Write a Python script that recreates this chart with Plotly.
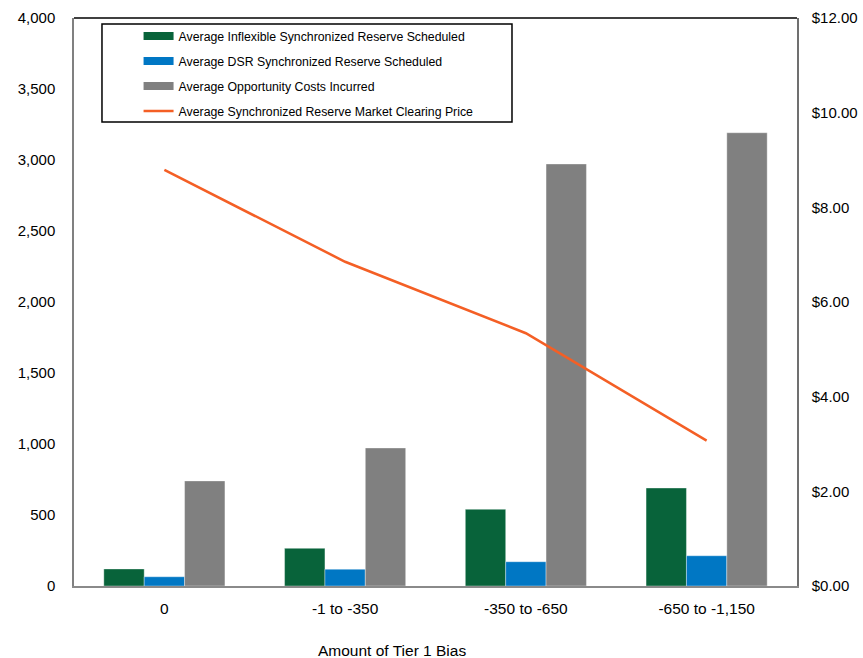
import plotly.graph_objects as go

# Tier 1 bias bins and averages per bin
categories = ["0", "-1 to -350", "-350 to -650", "-650 to -1,150"]
inflexible_mw = [120, 265, 540, 690]
dsr_mw = [65, 118, 171, 213]
opportunity_cost = [740, 972, 2972, 3192]
clearing_price = [8.79, 6.85, 5.34, 3.07]

series_names = [
    "Average Inflexible Synchronized Reserve Scheduled",
    "Average DSR Synchronized Reserve Scheduled",
    "Average Opportunity Costs Incurred",
    "Average Synchronized Reserve Market Clearing Price",
]
x_title = "Amount of Tier 1 Bias"

GREEN = "#08633a"
BLUE = "#0077c4"
GRAY = "#808080"
ORANGE = "#f45f25"

AXIS_FONT = dict(family="Liberation Sans, Arial, sans-serif", size=15, color="#000000")
LEGEND_FONT = dict(family="Liberation Sans, Arial, sans-serif", size=12.3, color="#000000")

fig = go.Figure()

bar_series = [
    (inflexible_mw, GREEN, "g1"),
    (dsr_mw, BLUE, "g2"),
    (opportunity_cost, GRAY, "g3"),
]
for (vals, color, grp), name in zip(bar_series, series_names[:3]):
    fig.add_trace(go.Bar(
        x=categories, y=vals, name=name, marker_color=color,
        marker_line=dict(color="rgba(255,255,255,0.6)", width=0.6),
        legendgroup=grp, showlegend=False,
    ))

fig.add_trace(go.Scatter(
    x=categories, y=clearing_price, name=series_names[3], yaxis="y2",
    mode="lines", line=dict(color=ORANGE, width=2.5),
    legendgroup="g4", showlegend=False,
))

# Legend entries: wide flat swatches for the bars, a thin line for the price
for (vals, color, grp), name in zip(bar_series, series_names[:3]):
    fig.add_trace(go.Scatter(
        x=[None], y=[None], mode="lines", name=name,
        line=dict(color=color, width=8), legendgroup=grp, showlegend=True,
    ))
fig.add_trace(go.Scatter(
    x=[None], y=[None], mode="lines", name=series_names[3], yaxis="y2",
    line=dict(color=ORANGE, width=2.5), legendgroup="g4", showlegend=True,
))

fig.update_layout(
    width=863, height=658,
    margin=dict(l=74, r=66, t=18, b=72, autoexpand=False),
    paper_bgcolor="white", plot_bgcolor="white",
    barmode="group", bargap=0.33, bargroupgap=0,
    font=AXIS_FONT,
    xaxis=dict(
        type="category", categoryorder="array", categoryarray=categories,
        showline=True, linecolor="#8a8a8a", linewidth=1.5,
        showgrid=False, ticks="", ticklabelstandoff=8, automargin=False,
        tickfont=dict(size=15.5),
        fixedrange=True,
    ),
    yaxis=dict(
        range=[0, 4000], dtick=500, tickformat=",", automargin=False,
        showline=True, linecolor="#808080", linewidth=1.5,
        showgrid=False, zeroline=False, ticks="", ticklabelstandoff=14,
    ),
    yaxis2=dict(
        range=[0, 12], dtick=2, tickprefix="$", tickformat=".2f",
        overlaying="y", side="right", automargin=False,
        showline=True, linecolor="#707070", linewidth=1.5,
        showgrid=False, zeroline=False, ticks="", ticklabelstandoff=10,
    ),
    legend=dict(
        x=0.0893, y=0.9938, xanchor="left", yanchor="top",
        bgcolor="rgba(0,0,0,0)", borderwidth=0,
        font=LEGEND_FONT, traceorder="grouped", tracegroupgap=6,
        itemwidth=30,
    ),
    # category-axis title, set a little left of centre
    annotations=[
        dict(text=x_title, xref="paper", yref="paper", x=0.44, y=-0.1127,
             xanchor="center", yanchor="middle", showarrow=False,
             font=dict(size=15.5)),
    ],
    shapes=[
        # top frame edge
        dict(type="line", xref="paper", yref="paper", x0=0, x1=1, y0=1, y1=1,
             line=dict(color="#000000", width=1.5)),
        # legend box
        dict(type="rect", xref="paper", yref="paper",
             x0=0.0387, x1=0.6058, y0=0.8169, y1=0.9894,
             line=dict(color="#000000", width=1.5), fillcolor="white", layer="above"),
    ],
)

fig.write_html("out.html")
